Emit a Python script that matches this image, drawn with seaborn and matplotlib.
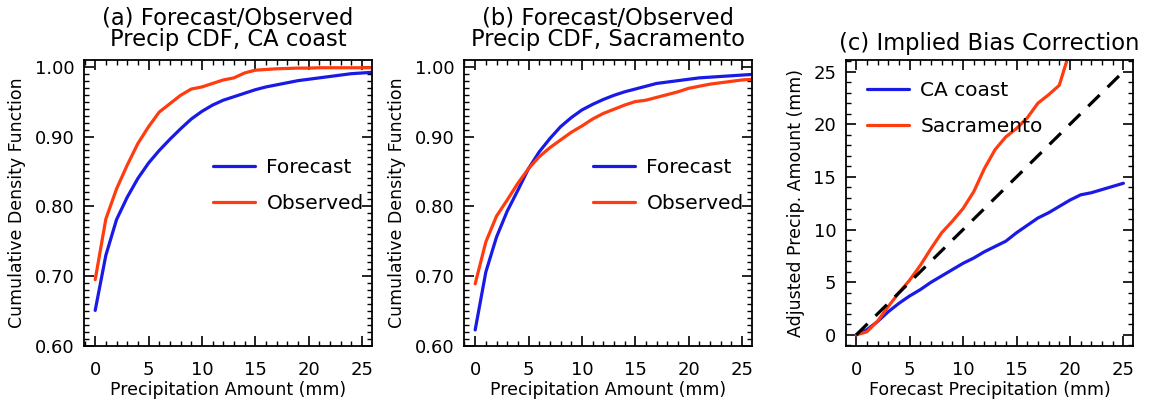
import numpy as np
import pandas as pd
import matplotlib
matplotlib.use("Agg")
import matplotlib.pyplot as plt
import seaborn as sns
from matplotlib.ticker import MultipleLocator, FormatStrFormatter

# ---- data ----
precip = list(range(0, 27))

coast_forecast = [0.651, 0.730, 0.781, 0.813, 0.840, 0.862, 0.880, 0.896, 0.911, 0.925,
                  0.936, 0.945, 0.952, 0.957, 0.962, 0.967, 0.971, 0.974, 0.977, 0.980,
                  0.982, 0.984, 0.986, 0.988, 0.990, 0.991, 0.992]
coast_observed = [0.695, 0.782, 0.825, 0.859, 0.890, 0.914, 0.935, 0.947, 0.959, 0.968,
                  0.971, 0.976, 0.981, 0.984, 0.991, 0.995, 0.996, 0.997, 0.9975, 0.998,
                  0.998, 0.9985, 0.9985, 0.9985, 0.9985, 0.9985, 0.9985]

sac_forecast = [0.623, 0.706, 0.756, 0.793, 0.823, 0.854, 0.878, 0.897, 0.914, 0.927,
                0.938, 0.946, 0.953, 0.959, 0.964, 0.968, 0.972, 0.976, 0.978, 0.980,
                0.982, 0.984, 0.985, 0.986, 0.987, 0.988, 0.989]
sac_observed = [0.689, 0.749, 0.786, 0.809, 0.833, 0.854, 0.871, 0.884, 0.895, 0.906,
                0.915, 0.925, 0.933, 0.939, 0.945, 0.950, 0.952, 0.956, 0.960, 0.964,
                0.969, 0.972, 0.975, 0.977, 0.979, 0.981, 0.982]

fc_precip = list(range(0, 26))
adj_coast = [0.0, 0.5, 1.27, 2.2, 3.0, 3.7, 4.3, 5.0, 5.6, 6.2, 6.8, 7.3, 7.9, 8.4, 8.9,
             9.7, 10.4, 11.1, 11.6, 12.2, 12.8, 13.3, 13.5, 13.8, 14.1, 14.4]
sac_x = list(range(0, 21))
adj_sac = [0.0, 0.3, 1.3, 2.7, 4.0, 5.2, 6.6, 8.2, 9.7, 10.8, 12.0, 13.6, 15.8, 17.6, 18.8,
           19.6, 20.6, 22.0, 22.8, 23.7, 27.0]
diag = [0, 25]

titles = ["(a) Forecast/Observed\nPrecip CDF, CA coast",
          "(b) Forecast/Observed\nPrecip CDF, Sacramento",
          "(c) Implied Bias Correction"]

BLUE = "#1a1ae6"
RED = "#ff3c0f"

sns.set_style("ticks")
plt.rcParams["font.family"] = ["DejaVu Sans"]
plt.rcParams["text.color"] = "black"
plt.rcParams["axes.labelcolor"] = "black"
plt.rcParams["xtick.color"] = "black"
plt.rcParams["ytick.color"] = "black"

fig = plt.figure(figsize=(11.49, 4.0), dpi=100)
axa = fig.add_axes([0.0731, 0.135, 0.2507, 0.715])
axb = fig.add_axes([0.4038, 0.135, 0.2507, 0.715])
axc = fig.add_axes([0.7363, 0.135, 0.2498, 0.715])

lw = 2.3

def style(ax, ymaj, ymin, fmt):
    ax.xaxis.set_major_locator(MultipleLocator(5))
    ax.xaxis.set_minor_locator(MultipleLocator(1))
    ax.yaxis.set_major_locator(MultipleLocator(ymaj))
    ax.yaxis.set_minor_locator(MultipleLocator(ymin))
    ax.yaxis.set_major_formatter(FormatStrFormatter(fmt))
    ax.tick_params(which="both", direction="in", top=True, right=True,
                   color="black", labelcolor="black", labelsize=13)
    ax.tick_params(which="major", length=7, width=1.2)
    ax.tick_params(which="minor", length=3.5, width=1.0)
    ax.tick_params(axis="x", which="major", pad=11)
    ax.tick_params(axis="y", which="major", pad=7)
    for s in ax.spines.values():
        s.set_linewidth(1.3)
        s.set_color("black")

for ax, fc, ob, t in [(axa, coast_forecast, coast_observed, titles[0]),
                      (axb, sac_forecast, sac_observed, titles[1])]:
    sns.lineplot(x=precip, y=fc, ax=ax, color=BLUE, lw=lw, label="Forecast")
    sns.lineplot(x=precip, y=ob, ax=ax, color=RED, lw=lw, label="Observed")
    ax.set_xlim(-1.05, 25.95)
    ax.set_ylim(0.60, 1.0096)
    style(ax, 0.1, 0.01, "%.2f")
    ax.set_xlabel("Precipitation Amount (mm)", fontsize=12.5, labelpad=1.5)
    ax.set_ylabel("Cumulative Density Function", fontsize=12.5, labelpad=6)
    ax.set_title(t, fontsize=16.3, pad=10, linespacing=0.95)
    ax.legend(loc="upper left", bbox_to_anchor=(0.448, 0.657), frameon=False,
              fontsize=14.5, handlelength=2.1, handletextpad=0.55,
              labelspacing=0.85, borderpad=0, borderaxespad=0)

sns.lineplot(x=fc_precip, y=adj_coast, ax=axc, color=BLUE, lw=lw, label="CA coast")
sns.lineplot(x=sac_x, y=adj_sac, ax=axc, color=RED, lw=lw, label="Sacramento")
sns.lineplot(x=diag, y=diag, ax=axc, color="black", lw=lw)
axc.lines[-1].set_dashes([5, 3.5])
axc.set_xlim(-0.95, 25.9)
axc.set_ylim(-1.05, 26.1)
style(axc, 5, 1, "%d")
axc.set_xlabel("Forecast Precipitation (mm)", fontsize=12.5, labelpad=1.5)
axc.set_ylabel("Adjusted Precip. Amount (mm)", fontsize=12.5, labelpad=6)
axc.set_title(titles[2], fontsize=16.3, pad=7)
axc.legend(loc="upper left", bbox_to_anchor=(0.073, 0.926), frameon=False,
           fontsize=14.5, handlelength=2.1, handletextpad=0.55,
           labelspacing=0.85, borderpad=0, borderaxespad=0)

fig.savefig("out.png", dpi=100)
